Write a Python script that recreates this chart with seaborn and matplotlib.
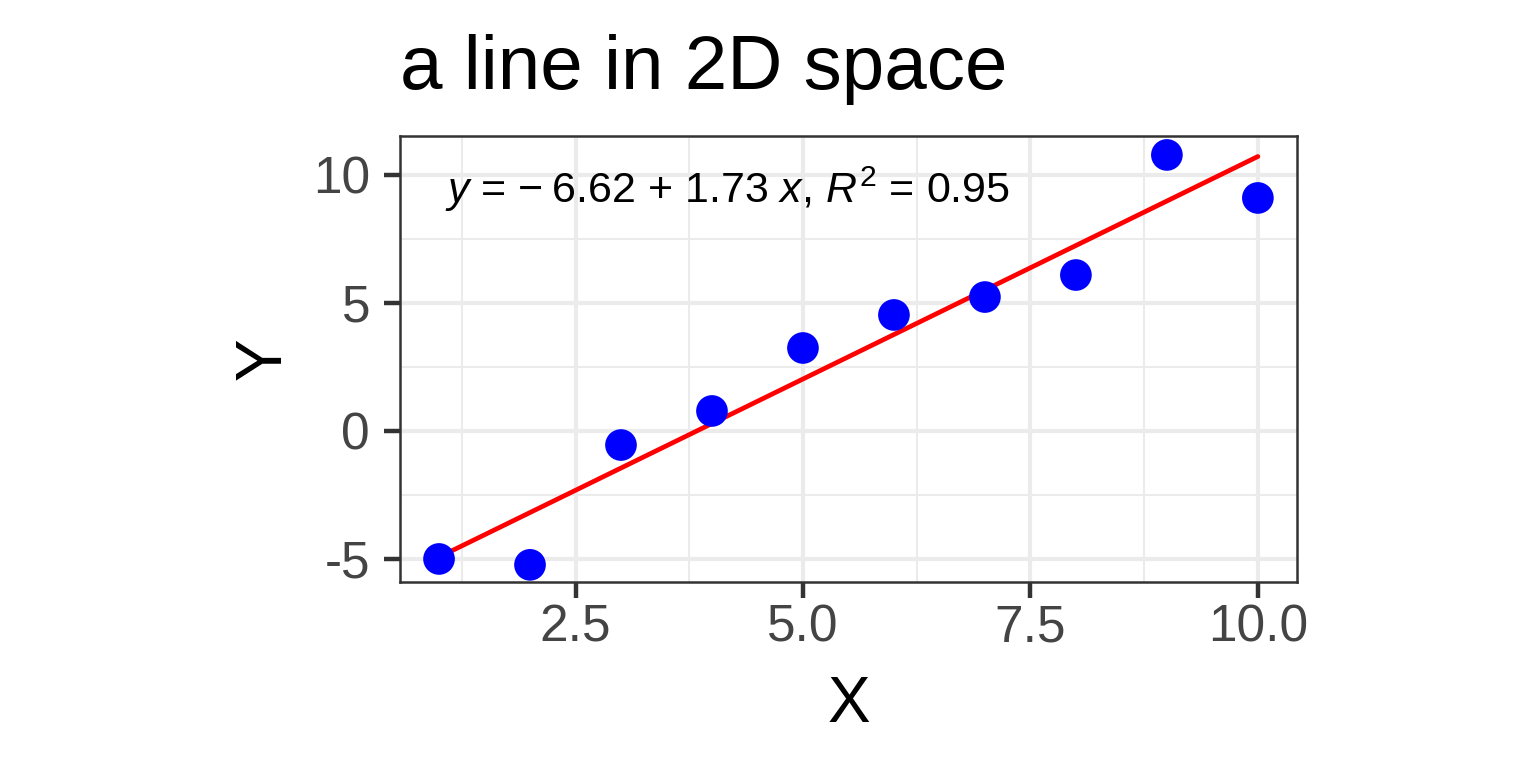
import numpy as np
import pandas as pd
import matplotlib
matplotlib.use("Agg")
import matplotlib.pyplot as plt
from matplotlib.ticker import MultipleLocator
import seaborn as sns

# data
x_vals = [1, 2, 3, 4, 5, 6, 7, 8, 9, 10]
y_vals = [-5.00, -5.23, -0.55, 0.78, 3.24, 4.53, 5.23, 6.09, 10.78, 9.10]
x_ticks = [2.5, 5.0, 7.5, 10.0]
y_ticks = [-5, 0, 5, 10]
title_text = "a line in 2D space"
eq_text = "$y$ = \u2212\u20096.62 + 1.73 $x$, $R^2$ = 0.95"

df = pd.DataFrame({"X": x_vals, "Y": y_vals})

sns.set_theme(style="white")
plt.rcParams["font.family"] = ["Liberation Sans", "DejaVu Sans"]
plt.rcParams["mathtext.fontset"] = "custom"
plt.rcParams["mathtext.rm"] = "Liberation Sans"
plt.rcParams["mathtext.it"] = "Liberation Sans:italic"
plt.rcParams["mathtext.sf"] = "Liberation Sans"

fig = plt.figure(figsize=(7.68, 3.84), dpi=200)
ax = fig.add_axes([400/1536, 1-582/768, (1297-400)/1536, (582-136)/768])

ax.set_xlim(0.571, 10.43)
ax.set_ylim(-5.90, 11.52)
ax.xaxis.set_minor_locator(MultipleLocator(1.25))
ax.yaxis.set_minor_locator(MultipleLocator(2.5))
ax.set_xticks(x_ticks)
ax.set_xticklabels([f"{v:.1f}" for v in x_ticks])
ax.set_yticks(y_ticks)
ax.set_yticklabels([str(v) for v in y_ticks])

ax.grid(which="major", color="#EBEBEB", linewidth=1.5, zorder=0)
ax.grid(which="minor", color="#EBEBEB", linewidth=0.75, zorder=0)
ax.set_axisbelow(True)

sns.regplot(data=df, x="X", y="Y", ax=ax, ci=None, scatter=False,
            line_kws=dict(color="red", linewidth=1.7, zorder=3))
sns.scatterplot(data=df, x="X", y="Y", ax=ax, color="blue", s=130,
                edgecolor="none", zorder=4)

for sp in ax.spines.values():
    sp.set_color("#333333")
    sp.set_linewidth(0.9)

ax.tick_params(axis="both", which="major", length=5.8, width=1.6,
               color="#333333", labelcolor="#444444", labelsize=18.5,
               bottom=True, left=True)
ax.tick_params(axis="x", pad=2)
ax.tick_params(axis="y", pad=5)
ax.tick_params(which="minor", length=0)

ax.set_xlabel("X", fontsize=23, color="black", labelpad=8)
ax.set_ylabel("Y", fontsize=23, color="black", labelpad=7)
ax.set_title(title_text, loc="left", fontsize=27.5, color="black", pad=17)

ax.text(0.05, 0.935, eq_text, transform=ax.transAxes, ha="left", va="top",
        fontsize=15.5, color="black")

fig.savefig("out.png", dpi=200)
